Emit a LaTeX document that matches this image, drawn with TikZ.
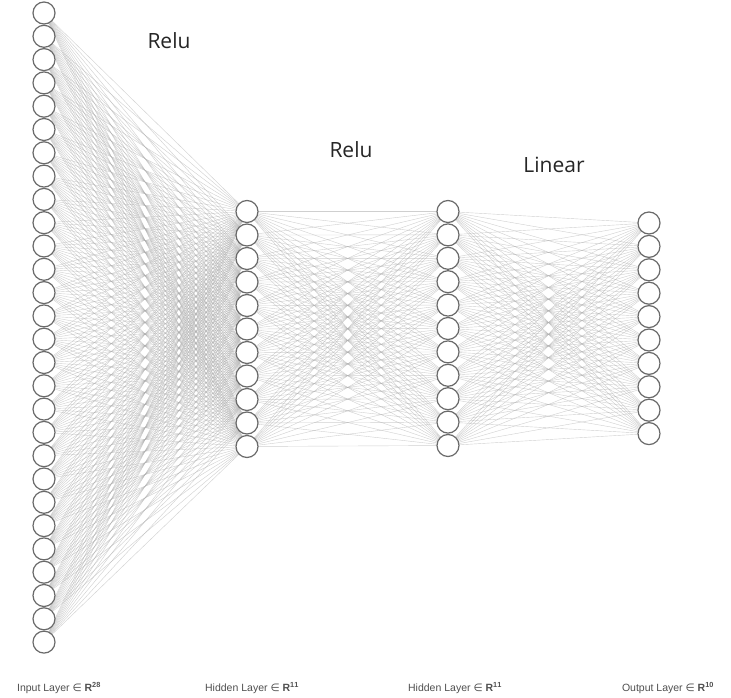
\documentclass[tikz,border=0pt]{standalone}
\usepackage{fontspec}
\setmainfont{Liberation Sans}
\newfontfamily\bigfont{Open Sans}
\newfontfamily\symfont{DejaVu Sans}
\definecolor{edgec}{HTML}{B0B0B0}
\definecolor{nodec}{HTML}{6A6A6A}
\definecolor{labc}{HTML}{505050}
\begin{document}
\begin{tikzpicture}[x=1pt,y=-1pt,
  neuron/.style={circle,draw=nodec,line width=1.2pt,fill=white,minimum size=22pt,inner sep=0pt},
  conn/.style={draw=edgec,line width=0.4pt,opacity=0.6},
  actlab/.style={font=\bigfont\fontsize{21}{24}\selectfont,text=black!85},
  laylab/.style={font=\fontsize{10.5}{12}\selectfont,text=labc}]
\useasboundingbox (0,0) rectangle (731,698);
\fill[white] (0,0) rectangle (731,698);
% coordinates for nodes
\foreach \i in {1,...,28}{\coordinate (a\i) at (44,{13+(\i-1)*23.3});}
\foreach \i in {1,...,11}{\coordinate (b\i) at (247,{211.5+(\i-1)*23.5});}
\foreach \i in {1,...,11}{\coordinate (c\i) at (448,{211.5+(\i-1)*23.4});}
\foreach \i in {1,...,10}{\coordinate (d\i) at (649,{223+(\i-1)*23.4});}
% connections
\foreach \i in {1,...,28}{\foreach \j in {1,...,11}{\draw[conn] (a\i) -- (b\j);}}
\foreach \i in {1,...,11}{\foreach \j in {1,...,11}{\draw[conn] (b\i) -- (c\j);}}
\foreach \i in {1,...,11}{\foreach \j in {1,...,10}{\draw[conn] (c\i) -- (d\j);}}
% neurons
\foreach \i in {1,...,28}{\node[neuron] (na\i) at (a\i) {};}
\foreach \i in {1,...,11}{\node[neuron] (nb\i) at (b\i) {};}
\foreach \i in {1,...,11}{\node[neuron] (nc\i) at (c\i) {};}
\foreach \i in {1,...,10}{\node[neuron] (nd\i) at (d\i) {};}
% activation labels
\node[actlab] (r1) at (169,41) {Relu};
\node[actlab] (r2) at (351,150) {Relu};
\node[actlab] (r3) at (554,165) {Linear};
% layer labels
\node[laylab] (l1) at (59,688) {Input Layer {\symfont∈} \textbf{R}$^{\mathbf{28}}$};
\node[laylab] (l2) at (252,688) {Hidden Layer {\symfont∈} \textbf{R}$^{\mathbf{11}}$};
\node[laylab] (l3) at (455,688) {Hidden Layer {\symfont∈} \textbf{R}$^{\mathbf{11}}$};
\node[laylab] (l4) at (668,688) {Output Layer {\symfont∈} \textbf{R}$^{\mathbf{10}}$};
\end{tikzpicture}
\end{document}
